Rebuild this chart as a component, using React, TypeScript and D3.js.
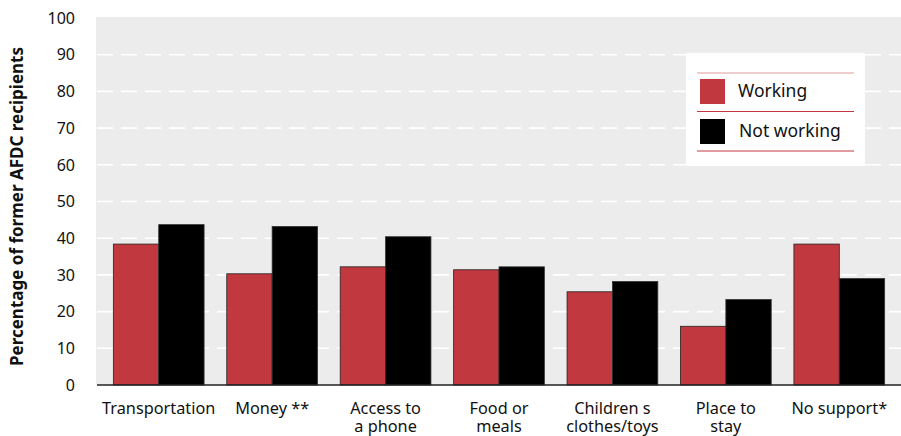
import React from "react";
import * as d3 from "d3";

const categories: string[][] = [
  ["Transportation"],
  ["Money **"],
  ["Access to", "a phone"],
  ["Food or", "meals"],
  ["Children s", "clothes/toys"],
  ["Place to", "stay"],
  ["No support*"],
];
const working: number[] = [38.4, 30.3, 32.2, 31.4, 25.4, 16, 38.4];
const notWorking: number[] = [43.7, 43.2, 40.4, 32.2, 28.2, 23.3, 29];
const seriesNames: string[] = ["Working", "Not working"];
const yTicks: number[] = [0, 10, 20, 30, 40, 50, 60, 70, 80, 90, 100];
const yTitle = "Percentage of former AFDC recipients";

const W = 901;
const H = 436;
const FONT = "'Noto Sans', 'Open Sans', sans-serif";
const RED = "#c1393f";

export default function App() {
  const x = d3
    .scaleBand<number>()
    .domain(categories.map((_, i) => i))
    .range([102, 896])
    .paddingInner(0.2)
    .paddingOuter(0.1);
  const y = d3.scaleLinear().domain([0, 100]).range([385, 18]);
  const bw = x.bandwidth() / 2;

  return (
    <svg
      width={W}
      height={H}
      style={{ position: "absolute", left: 0, top: 0 }}
      fontFamily={FONT}
    >
      <rect x={0} y={0} width={W} height={H} fill="#fff" />
      <rect x={96} y={y(100) - 1} width={W - 96} height={y(0) - y(100) + 1} fill="#ececec" />
      {yTicks
        .filter((t) => t > 0 && t < 100)
        .map((t) => (
          <line
            key={t}
            x1={97}
            x2={W}
            y1={y(t)}
            y2={y(t)}
            stroke="#fff"
            strokeWidth={1.6}
            strokeDasharray="16,8"
          />
        ))}
      {yTicks.map((t) => (
        <text
          key={t}
          x={75}
          y={y(t)}
          dy="0.36em"
          textAnchor="end"
          fontSize={16}
          fill="#111"
        >
          {t}
        </text>
      ))}
      <text
        transform={`translate(23,206.5) rotate(-90)`}
        textAnchor="middle"
        fontSize={17}
        fontWeight="bold"
        fill="#111"
      >
        {yTitle}
      </text>
      {categories.map((_, i) => (
        <g key={i}>
          <rect
            x={x(i)!}
            y={y(working[i])}
            width={bw}
            height={y(0) - y(working[i])}
            fill={RED}
            stroke="#222"
            strokeWidth={0.8}
          />
          <rect
            x={x(i)! + bw}
            y={y(notWorking[i])}
            width={bw}
            height={y(0) - y(notWorking[i])}
            fill="#000"
            stroke="#333"
            strokeWidth={0.8}
          />
        </g>
      ))}
      <line x1={97} x2={W} y1={y(0)} y2={y(0)} stroke="#222" strokeWidth={1.6} />
      {categories.map((lines, i) =>
        lines.map((l, j) => (
          <text
            key={`${i}-${j}`}
            x={x(i)! + x.bandwidth() / 2}
            y={414 + j * 17.5}
            textAnchor="middle"
            fontSize={16.3}
            fill="#111"
          >
            {l}
          </text>
        ))
      )}
      <g>
        <rect x={686} y={53} width={179} height={113} fill="#fff" />
        <line x1={697} x2={854} y1={73} y2={73} stroke="#e0999c" strokeWidth={1.2} />
        <line x1={697} x2={854} y1={111.5} y2={111.5} stroke={RED} strokeWidth={1} />
        <line x1={697} x2={854} y1={151} y2={151} stroke={RED} strokeWidth={1} />
        <rect x={700} y={79} width={25} height={25} fill={RED} />
        <rect x={700} y={119} width={25} height={25} fill="#000" />
        <text x={738} y={97} fontSize={17.5} fill="#111">
          {seriesNames[0]}
        </text>
        <text x={739} y={137} fontSize={17.5} fill="#111">
          {seriesNames[1]}
        </text>
      </g>
    </svg>
  );
}
